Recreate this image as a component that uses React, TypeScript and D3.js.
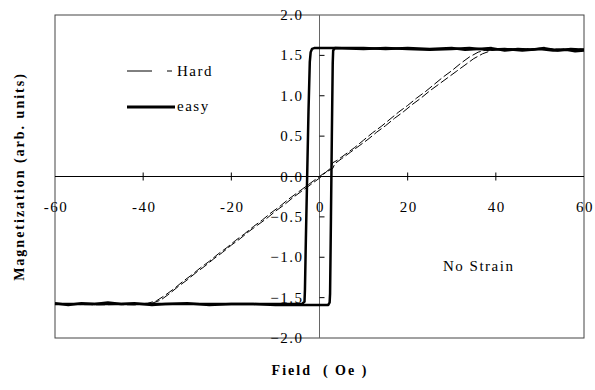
import React from "react";
import * as d3 from "d3";

// field values (Oe) and magnetization (arb. units)
const easyDown: [number, number][] = [
  [60, 1.57], [57, 1.58], [54, 1.56], [51, 1.59], [48, 1.57], [45, 1.58], [42, 1.56], [39, 1.59],
  [36, 1.58], [33, 1.57], [30, 1.59], [25, 1.58], [20, 1.59], [15, 1.58], [10, 1.59], [5, 1.59],
  [0, 1.59], [-1.2, 1.59], [-1.7, 1.58], [-2.0, 1.54], [-2.2, 1.42], [-2.5, 0.8], [-2.8, 0.0],
  [-3.1, -0.8], [-3.3, -1.4], [-3.4, -1.55], [-4, -1.58], [-10, -1.58], [-20, -1.58], [-30, -1.58],
  [-40, -1.58], [-50, -1.58], [-60, -1.58],
];

const easyUp: [number, number][] = [
  [-60, -1.57], [-57, -1.59], [-54, -1.57], [-51, -1.58], [-48, -1.56], [-45, -1.58], [-42, -1.57],
  [-38, -1.59], [-35, -1.58], [-30, -1.57], [-25, -1.59], [-20, -1.58], [-15, -1.58], [-10, -1.59],
  [-5, -1.59], [0, -1.59], [2.0, -1.59], [2.3, -1.56], [2.4, -1.45], [2.6, -0.5], [2.8, 0.5],
  [3.0, 1.4], [3.1, 1.56], [3.5, 1.59], [10, 1.58], [15, 1.59], [20, 1.58], [25, 1.57],
  [30, 1.58], [34, 1.59], [38, 1.57], [42, 1.58], [46, 1.56], [50, 1.58], [53, 1.56], [56, 1.57],
  [58, 1.55], [60, 1.56],
];

const hardUp: [number, number][] = [
  [-60, -1.58], [-50, -1.58], [-42, -1.59], [-38, -1.57], [-36, -1.53], [-34, -1.45], [-32, -1.36],
  [-30, -1.28], [-28, -1.19], [-26, -1.11], [-24, -1.02], [-22, -0.94], [-20, -0.85], [-18, -0.77],
  [-16, -0.68], [-14, -0.6], [-12, -0.52], [-10, -0.43], [-8, -0.35], [-6, -0.26], [-4, -0.18],
  [-2, -0.1], [0, -0.02], [2, 0.08], [2.5, 0.1], [3, 0.17], [4, 0.2], [6, 0.28], [8, 0.36],
  [10, 0.45], [12, 0.54], [14, 0.62], [16, 0.71], [18, 0.8], [20, 0.88], [22, 0.97], [24, 1.05],
  [26, 1.14], [28, 1.23], [30, 1.31], [32, 1.4], [34, 1.48], [36, 1.54], [38, 1.57], [40, 1.58],
  [50, 1.58], [60, 1.58],
];

const hardDown: [number, number][] = [
  [60, 1.57], [50, 1.58], [42, 1.58], [39, 1.56], [37, 1.52], [35, 1.46], [33, 1.38], [31, 1.3],
  [29, 1.22], [27, 1.14], [25, 1.06], [23, 0.97], [21, 0.89], [19, 0.8], [17, 0.72], [15, 0.63],
  [13, 0.55], [11, 0.46], [9, 0.38], [7, 0.3], [5, 0.22], [3.5, 0.16], [3, 0.1], [1, 0.04],
  [-1, -0.04], [-3, -0.12], [-5, -0.2], [-7, -0.28], [-9, -0.37], [-11, -0.45], [-13, -0.54],
  [-15, -0.62], [-17, -0.71], [-19, -0.79], [-21, -0.88], [-23, -0.96], [-25, -1.05], [-27, -1.13],
  [-29, -1.22], [-31, -1.3], [-33, -1.39], [-35, -1.47], [-37, -1.54], [-39, -1.57], [-42, -1.58],
  [-50, -1.59], [-60, -1.58],
];

const xTicks = [-60, -40, -20, 0, 20, 40, 60];
const yTicks = [2, 1.5, 1, 0.5, 0, -0.5, -1, -1.5, -2];

const W = 595;
const H = 390;
const left = 55, right = 584, top = 15, bottom = 338;
const serif = "'Liberation Serif', 'DejaVu Serif', serif";

export default function App() {
  const x = d3.scaleLinear().domain([-60, 60]).range([left, right]);
  const y = d3.scaleLinear().domain([-2, 2]).range([bottom, top]);
  const line = d3.line<[number, number]>().x((d) => x(d[0])).y((d) => y(d[1]));
  const x0 = x(0);
  const y0 = y(0);
  const txt = { fontFamily: serif, fontSize: 15, letterSpacing: 1.5 };

  return (
    <svg width={W} height={H} style={{ position: "absolute", left: 0, top: 0, background: "#fff", fontFamily: serif }}>
      <rect x={left} y={top} width={right - left} height={bottom - top} fill="none" stroke="#444" strokeWidth={1} />

      {/* axes through origin */}
      <line x1={x0} x2={x0} y1={top} y2={bottom} stroke="#666" strokeWidth={1} />
      <line x1={left} x2={right} y1={y0} y2={y0} stroke="#000" strokeWidth={1} />

      {yTicks.filter((t) => Math.abs(t) < 2 && t !== 0).map((t) => (
        <line key={"yt" + t} x1={x0} x2={x0 + 5} y1={y(t)} y2={y(t)} stroke="#000" />
      ))}
      {xTicks.filter((t) => Math.abs(t) < 60 && t !== 0).map((t) => (
        <line key={"xt" + t} x1={x(t)} x2={x(t)} y1={y0 - 4} y2={y0 + 4} stroke="#000" />
      ))}

      <g style={txt} fill="#000">
        {yTicks.map((t) => (
          <text key={"yl" + t} x={x0 - 16} y={y(t)} textAnchor="end" dominantBaseline="central">
            {d3.format(".1f")(t)}
          </text>
        ))}
        {xTicks.map((t) => (
          <text key={"xl" + t} x={x(t) + 1} y={y0 + 35} textAnchor="middle">
            {t}
          </text>
        ))}
      </g>

      {/* hard axis */}
      <path d={line(hardDown) ?? ""} fill="none" stroke="#000" strokeWidth={1} strokeDasharray="9,3" />
      <path d={line(hardUp) ?? ""} fill="none" stroke="#000" strokeWidth={1} strokeDasharray="9,3" />

      {/* easy axis */}
      <path d={line(easyDown) ?? ""} fill="none" stroke="#000" strokeWidth={2.5} strokeLinejoin="round" />
      <path d={line(easyUp) ?? ""} fill="none" stroke="#000" strokeWidth={2.5} strokeLinejoin="round" />

      {/* legend */}
      <line x1={127} x2={172} y1={71} y2={71} stroke="#000" strokeWidth={1} strokeDasharray="25,15" />
      <text x={177} y={71} dominantBaseline="central" style={txt}>Hard</text>
      <line x1={127} x2={175} y1={107} y2={107} stroke="#000" strokeWidth={3} />
      <text x={177} y={106} dominantBaseline="central" style={txt}>easy</text>

      <text x={443} y={266} dominantBaseline="central" style={txt}>No Strain</text>

      <text x={320} y={375} textAnchor="middle" style={{ fontFamily: serif, fontSize: 14, fontWeight: "bold", letterSpacing: 2, whiteSpace: "pre" }}>
        {"Field  ( Oe )"}
      </text>
      <text
        transform={`translate(19, ${(top + bottom) / 2}) rotate(-90)`}
        textAnchor="middle"
        dominantBaseline="central"
        style={{ fontFamily: serif, fontSize: 14, fontWeight: "bold", letterSpacing: 2 }}
      >
        Magnetization (arb. units)
      </text>
    </svg>
  );
}
